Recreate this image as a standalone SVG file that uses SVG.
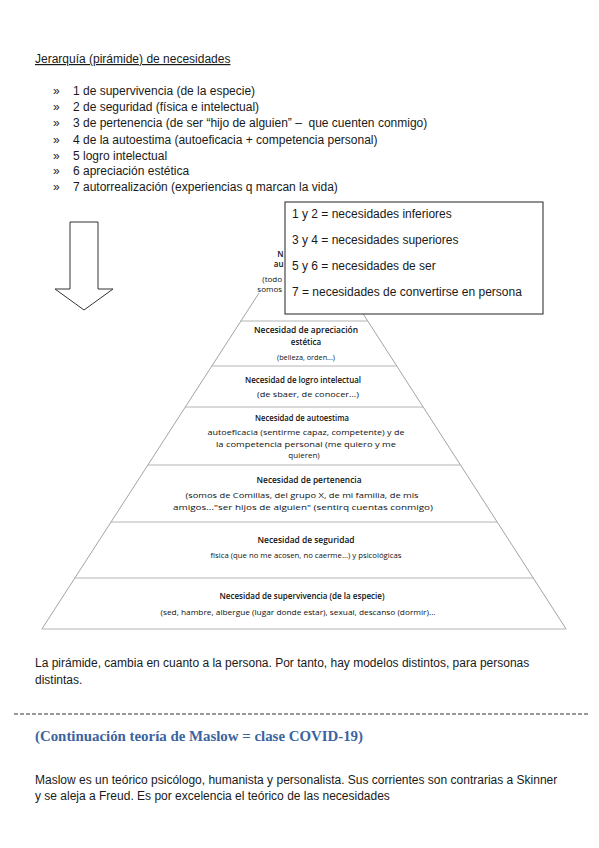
<svg xmlns="http://www.w3.org/2000/svg" width="599" height="848" viewBox="0 0 599 848">
<style>
.t{font-family:"Liberation Sans",Arial,sans-serif;font-size:12px;fill:#1a1a1a}
.b{font-family:"Liberation Sans",Arial,sans-serif;font-size:12px;fill:#1a1a1a}
.p{font-family:"Open Sans","Noto Sans",sans-serif;font-size:8px;fill:#111;text-anchor:middle}
.pb{font-family:"Open Sans","Noto Sans",sans-serif;font-size:8px;font-weight:600;fill:#111;text-anchor:middle}
.pe{font-family:"Open Sans","Noto Sans",sans-serif;font-size:8px;fill:#111;text-anchor:end}
.band{stroke:#b4b4b4;stroke-width:1;fill:none}
.edge{stroke:#8c8c8c;stroke-width:0.8;fill:none}
.h{font-family:"Liberation Serif","DejaVu Serif",serif;font-size:14px;font-weight:bold;fill:#3a64a0}
</style>
<rect width="599" height="848" fill="#fff"/>

<g id="intro">
<text class="t" x="35" y="63" text-decoration="underline">Jerarquía (pirámide) de necesidades</text>
<text class="b" x="53" y="95">»</text><text class="t" x="73" y="95">1 de supervivencia (de la especie)</text>
<text class="b" x="53" y="111">»</text><text class="t" x="73" y="111">2 de seguridad (física e intelectual)</text>
<text class="b" x="53" y="127">»</text><text class="t" x="73" y="127" xml:space="preserve">3 de pertenencia (de ser “hijo de alguien” –  que cuenten conmigo)</text>
<text class="b" x="53" y="144">»</text><text class="t" x="73" y="144">4 de la autoestima (autoeficacia + competencia personal)</text>
<text class="b" x="53" y="160">»</text><text class="t" x="73" y="160">5 logro intelectual</text>
<text class="b" x="53" y="175">»</text><text class="t" x="73" y="175">6 apreciación estética</text>
<text class="b" x="53" y="191">»</text><text class="t" x="73" y="191">7 autorrealización (experiencias q marcan la vida)</text>
</g>

<g id="arrow">
<path d="M70,222 H98 V289 H113 L84,310 L55,289 H70 Z" fill="#fff" stroke="#333" stroke-width="1"/>
</g>

<g id="pyramid">
<path class="edge" d="M259,293 L41.9,629 M304,222 L566.1,629"/>
<g id="level7">
<text class="pe" x="283.5" y="257" font-weight="600">N</text>
<text class="pe" x="283.5" y="267" font-weight="600">au</text>
<text class="pe" x="282" y="282">(todo</text>
<text class="pe" x="282" y="292">somos</text>
</g>
<g id="level6">
<line class="band" x1="240.2" y1="321" x2="367.8" y2="321"/>
<text class="pb" x="306" y="333" textLength="104" lengthAdjust="spacingAndGlyphs">Necesidad de apreciación</text>
<text class="pb" x="306" y="345">estética</text>
<text class="p" x="306" y="360" textLength="58" lengthAdjust="spacingAndGlyphs">(belleza, orden...)</text>
</g>
<g id="level5">
<line class="band" x1="211.3" y1="366" x2="396.7" y2="366"/>
<text class="pb" x="303" y="383" textLength="116" lengthAdjust="spacingAndGlyphs">Necesidad de logro intelectual</text>
<text class="p" x="308" y="397" textLength="102" lengthAdjust="spacingAndGlyphs">(de sbaer, de conocer...)</text>
</g>
<g id="level4">
<line class="band" x1="184.9" y1="407" x2="423.1" y2="407"/>
<text class="pb" x="302" y="421" textLength="94" lengthAdjust="spacingAndGlyphs">Necesidad de autoestima</text>
<text class="p" x="306" y="435" textLength="197" lengthAdjust="spacingAndGlyphs">autoeficacia (sentirme capaz, competente) y de</text>
<text class="p" x="306" y="447" textLength="180" lengthAdjust="spacingAndGlyphs">la competencia personal (me quiero y me</text>
<text class="p" x="304" y="458">quieren)</text>
</g>
<g id="level3">
<line class="band" x1="147.5" y1="465" x2="460.5" y2="465"/>
<text class="pb" x="309" y="483" textLength="105" lengthAdjust="spacingAndGlyphs">Necesidad de pertenencia</text>
<text class="p" x="302" y="498" textLength="233" lengthAdjust="spacingAndGlyphs">(somos de Comillas, del grupo X, de mi familia, de mis</text>
<text class="p" x="303" y="510" textLength="260" lengthAdjust="spacingAndGlyphs">amigos..."ser hijos de alguien" (sentirq cuentas conmigo)</text>
</g>
<g id="level2">
<line class="band" x1="110.8" y1="522" x2="497.2" y2="522"/>
<text class="pb" x="306" y="543" textLength="97" lengthAdjust="spacingAndGlyphs">Necesidad de seguridad</text>
<text class="p" x="306" y="558" textLength="191" lengthAdjust="spacingAndGlyphs">física (que no me acosen, no caerme...) y psicológicas</text>
</g>
<g id="level1">
<line class="band" x1="74.7" y1="578" x2="533.3" y2="578"/>
<text class="pb" x="302" y="599" textLength="165" lengthAdjust="spacingAndGlyphs">Necesidad de supervivencia (de la especie)</text>
<text class="p" x="298" y="615" textLength="275" lengthAdjust="spacingAndGlyphs">(sed, hambre, albergue (lugar donde estar), sexual, descanso (dormir)...</text>
<line class="band" x1="41.9" y1="629" x2="566.1" y2="629"/>
</g>
</g>

<g id="legend">
<rect x="285" y="202" width="258" height="112" fill="#fff" stroke="#222" stroke-width="1"/>
<text class="t" x="292" y="218">1 y 2 = necesidades inferiores</text>
<text class="t" x="292" y="244">3 y 4 = necesidades superiores</text>
<text class="t" x="292" y="270">5 y 6 = necesidades de ser</text>
<text class="t" x="292" y="296">7 = necesidades de convertirse en persona</text>
</g>

<g id="outro">
<text class="t" x="35" y="667">La pirámide, cambia en cuanto a la persona. Por tanto, hay modelos distintos, para personas</text>
<text class="t" x="35" y="684">distintas.</text>
<line x1="14" y1="714" x2="588" y2="714" stroke="#333" stroke-width="1" stroke-dasharray="4 2"/>
<text class="h" x="35" y="741" textLength="328" lengthAdjust="spacingAndGlyphs">(Continuación teoría de Maslow = clase COVID-19)</text>
<text class="t" x="35" y="784">Maslow es un teórico psicólogo, humanista y personalista. Sus corrientes son contrarias a Skinner</text>
<text class="t" x="35" y="800">y se aleja a Freud. Es por excelencia el teórico de las necesidades</text>
</g>
</svg>
